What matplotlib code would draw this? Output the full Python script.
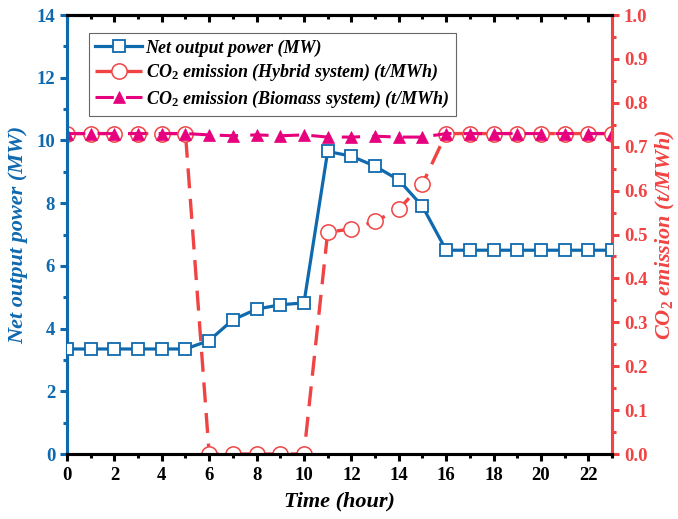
import numpy as np
import matplotlib
matplotlib.use('Agg')
import matplotlib.pyplot as plt
from matplotlib.ticker import MultipleLocator, FormatStrFormatter

plt.rcParams['font.family'] = 'Liberation Serif'
plt.rcParams['font.weight'] = 'bold'
plt.rcParams['mathtext.fontset'] = 'custom'
plt.rcParams['mathtext.rm'] = 'Liberation Serif:bold:italic'
plt.rcParams['mathtext.it'] = 'Liberation Serif:bold:italic'
plt.rcParams['mathtext.bf'] = 'Liberation Serif:bold'

# hourly data
hours = list(range(24))
net_power = [3.35, 3.35, 3.35, 3.35, 3.35, 3.35, 3.62, 4.28, 4.62, 4.76, 4.82,
             9.65, 9.5, 9.18, 8.74, 7.9, 6.5, 6.5, 6.5, 6.5, 6.5, 6.5, 6.5, 6.5]
co2_hybrid = [0.73, 0.73, 0.73, 0.73, 0.73, 0.73, 0.0, 0.0, 0.0, 0.0, 0.0,
              0.505, 0.513, 0.53, 0.558, 0.615, 0.73, 0.73, 0.73, 0.73, 0.73, 0.73, 0.73, 0.73]
co2_biomass = [0.73, 0.73, 0.73, 0.73, 0.73, 0.73, 0.727, 0.725, 0.727, 0.725, 0.727,
               0.722, 0.722, 0.724, 0.722, 0.722, 0.73, 0.73, 0.73, 0.73, 0.73, 0.73, 0.73, 0.73]

blue = '#0F69AF'
red = '#F04444'
magenta = '#E6007E'

fig = plt.figure(figsize=(6.78, 5.19), dpi=100)
ax1 = fig.add_axes([0.0988, 0.1252, 0.8039, 0.8458])
ax2 = ax1.twinx()

l1, = ax1.plot(hours, net_power, color=blue, lw=2.3, marker='s', ms=8.5,
               mfc='white', mec=blue, mew=1.3, label='Net output power (MW)', zorder=3)
l2, = ax2.plot(hours, co2_hybrid, color=red, lw=2.4, dashes=(6, 3.2), marker='o', ms=11,
               mfc='white', mec=red, mew=1.1,
               label=r'CO$_\mathbf{2}$ emission (Hybrid system) (t/MWh)', zorder=2)
l3, = ax2.plot(hours, co2_biomass, color=magenta, lw=2.2, dashes=(6, 4), marker='^', ms=8.5,
               mfc=magenta, mec=magenta, mew=0.5,
               label=r'CO$_\mathbf{2}$ emission (Biomass system) (t/MWh)', zorder=3)

# blue series drawn above the twin axis
ax1.set_zorder(ax2.get_zorder() + 1)
ax1.patch.set_visible(False)

ax1.set_xlim(0, 23)
ax1.set_ylim(0, 14)
ax2.set_ylim(0, 1.0)

ax1.xaxis.set_major_locator(MultipleLocator(2))
ax1.xaxis.set_minor_locator(MultipleLocator(1))
ax1.yaxis.set_major_locator(MultipleLocator(2))
ax1.yaxis.set_minor_locator(MultipleLocator(1))
ax2.yaxis.set_major_locator(MultipleLocator(0.1))
ax2.yaxis.set_minor_locator(MultipleLocator(0.05))
ax2.yaxis.set_major_formatter(FormatStrFormatter('%.1f'))

for ax in (ax1, ax2):
    for s in ax.spines.values():
        s.set_linewidth(2.2)
    ax.spines['left'].set_color(blue)
    ax.spines['right'].set_color(red)
    ax.spines['top'].set_color('black')
    ax.spines['bottom'].set_color('black')

ax1.tick_params(axis='x', which='major', direction='out', length=5, width=2.2, labelsize=13.5, pad=4)
ax1.tick_params(axis='x', which='minor', direction='out', length=3, width=2.2)
ax1.tick_params(axis='y', which='major', direction='out', length=5, width=2.2, colors=blue, labelsize=13.5)
ax1.tick_params(axis='y', which='minor', direction='out', length=3, width=2.2, colors=blue)
ax2.tick_params(axis='y', which='major', direction='out', length=5, width=2.2, colors=red, labelsize=13.5)
ax2.tick_params(axis='y', which='minor', direction='out', length=3, width=2.2, colors=red)

# inward ticks along the top edge
top = ax1.secondary_xaxis('top')
top.xaxis.set_major_locator(MultipleLocator(2))
top.xaxis.set_minor_locator(MultipleLocator(1))
top.tick_params(which='major', direction='in', length=5, width=2.2, labeltop=False)
top.tick_params(which='minor', direction='in', length=3, width=2.2)
top.spines['top'].set_linewidth(2.2)

ax1.set_xlabel('Time (hour)', fontsize=16, fontstyle='italic', fontweight='bold', labelpad=6)
ax1.set_ylabel('Net output power (MW)', fontsize=16, fontstyle='italic', fontweight='bold',
               color=blue, labelpad=6)
ax2.set_ylabel(r'CO$_\mathbf{2}$ emission (t/MWh)', fontsize=16, fontstyle='italic',
               fontweight='bold', color=red, labelpad=5)

leg = ax1.legend(handles=[l1, l2, l3], loc='upper left', bbox_to_anchor=(0.04, 0.959),
                 borderaxespad=0,
                 prop={'size': 13, 'style': 'italic', 'weight': 'bold'},
                 numpoints=1, handlelength=2.6, handletextpad=0.2, labelspacing=0.3,
                 borderpad=0.35, fancybox=False, edgecolor='#666666', framealpha=1)
leg.get_frame().set_linewidth(0.8)

fig.savefig('out.png', dpi=100)
